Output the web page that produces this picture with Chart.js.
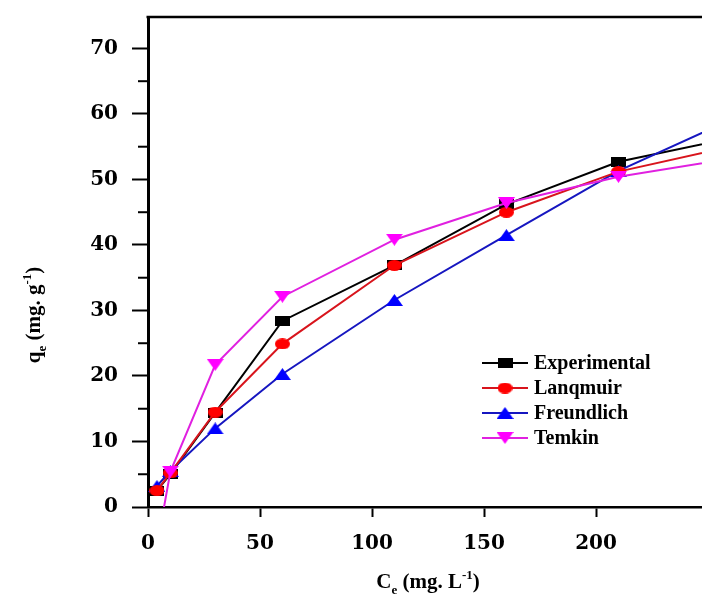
<!DOCTYPE html>
<html>
<head>
<meta charset="utf-8">
<title>Adsorption isotherms</title>
<script src="https://cdn.jsdelivr.net/npm/chart.js@4.4.1/dist/chart.umd.min.js"></script>
<style>
  html, body { margin: 0; padding: 0; background: #fff; }
  #wrap { position: relative; width: 702px; height: 597px; }
</style>
</head>
<body>
<div id="wrap"><canvas id="isoChart"></canvas></div>
<script>
// isotherm fits vs experimental uptake
const ceValues     = [4, 10, 30, 60, 110, 160, 210, 260];
const experimental = [2.5, 5.0, 14.4, 28.4, 36.9, 46.2, 52.7, 56.3];
const langmuir     = [2.5, 5.2, 14.5, 24.9, 36.9, 45.0, 51.2, 55.0];
const freundlich   = [3.2, 5.5, 12.0, 20.3, 31.6, 41.5, 51.3, 59.1];
const temkin       = [-6, 5.4, 21.7, 32.1, 40.8, 46.4, 50.4, 53.2];

const seriesNames = ['Experimental', 'Lanqmuir', 'Freundlich', 'Temkin'];
const xTickValues = [0, 50, 100, 150, 200];
const yTickValues = [0, 10, 20, 30, 40, 50, 60, 70];
const yMinorTicks = [5, 15, 25, 35, 45, 55, 65];

const tickFont = { family: '"DejaVu Serif", serif', weight: 'bold', size: 20 };
const textFont = '"Liberation Serif", "Times New Roman", serif';

// the original figure is stretched sideways, so markers are a bit wider than tall
function markerImage(shape, w, h, color) {
  const c = document.createElement('canvas');
  c.width = w;
  c.height = h;
  const g = c.getContext('2d');
  g.fillStyle = color;
  g.beginPath();
  if (shape === 'rect') {
    g.rect(0, 0, w, h);
  } else if (shape === 'circle') {
    g.ellipse(w / 2, h / 2, w / 2, h / 2, 0, 0, Math.PI * 2);
  } else if (shape === 'up') {
    g.moveTo(w / 2, 0); g.lineTo(w, h); g.lineTo(0, h);
  } else {
    g.moveTo(0, 0); g.lineTo(w, 0); g.lineTo(w / 2, h);
  }
  g.closePath();
  g.fill();
  return c;
}

function makeSet(name, values, line, marker, order) {
  return {
    label: name,
    data: ceValues.map((x, i) => ({ x, y: values[i] })),
    borderColor: line,
    backgroundColor: line,
    pointStyle: marker,
    pointRadius: 6,
    borderWidth: 2,
    tension: 0,
    order
  };
}

const datasets = [
  makeSet(seriesNames[0], experimental, '#000000', markerImage('rect',   15, 10, '#000000'), 4),
  makeSet(seriesNames[1], langmuir,     '#d8141c', markerImage('circle', 15, 11, '#ff0000'), 2),
  makeSet(seriesNames[2], freundlich,   '#1616c0', markerImage('up',     17, 12, '#0000ff'), 3),
  makeSet(seriesNames[3], temkin,       '#e020e0', markerImage('down',   17, 12, '#ff00ff'), 1)
];

// draws text with sub/superscript parts, centred on x
function drawRich(ctx, parts, x, y, size) {
  const small = Math.round(size * 0.6);
  let total = 0;
  parts.forEach(p => {
    ctx.font = `bold ${p[1] ? small : size}px ${textFont}`;
    p.w = ctx.measureText(p[0]).width;
    total += p.w;
  });
  let cx = x - total / 2;
  ctx.textAlign = 'left';
  ctx.textBaseline = 'alphabetic';
  parts.forEach(p => {
    ctx.font = `bold ${p[1] ? small : size}px ${textFont}`;
    let dy = 0;
    if (p[1] === 'sub') dy = size * 0.3;
    if (p[1] === 'sup') dy = -size * 0.42;
    ctx.fillText(p[0], cx, y + dy);
    cx += p.w;
  });
}

const decorPlugin = {
  id: 'decor',
  afterDraw(chart) {
    const ctx = chart.ctx;
    const area = chart.chartArea;
    const yScale = chart.scales.y;
    ctx.save();
    ctx.strokeStyle = '#000';
    ctx.fillStyle = '#000';

    // top frame line
    ctx.lineWidth = 2.5;
    ctx.beginPath();
    ctx.moveTo(area.left - 1.5, area.top);
    ctx.lineTo(area.right, area.top);
    ctx.stroke();

    // short minor ticks on the y axis
    ctx.lineWidth = 2;
    yMinorTicks.forEach(v => {
      const py = yScale.getPixelForValue(v);
      ctx.beginPath();
      ctx.moveTo(area.left - 10, py);
      ctx.lineTo(area.left, py);
      ctx.stroke();
    });

    // axis titles
    drawRich(ctx, [['C'], ['e', 'sub'], [' (mg. L'], ['-1', 'sup'], [')']], 428, 588, 21);
    ctx.translate(40, 315);
    ctx.rotate(-Math.PI / 2);
    drawRich(ctx, [['q'], ['e', 'sub'], [' (mg. g'], ['-1', 'sup'], [')']], 0, 0, 21);
    ctx.restore();

    // legend: line sample + marker + name
    ctx.save();
    chart.data.datasets.forEach((ds, i) => {
      const rowY = 363 + i * 25;
      ctx.strokeStyle = ds.borderColor;
      ctx.lineWidth = 2;
      ctx.beginPath();
      ctx.moveTo(482, rowY);
      ctx.lineTo(528, rowY);
      ctx.stroke();
      Chart.helpers.drawPoint(ctx, { pointStyle: ds.pointStyle, radius: 6, rotation: 0, borderWidth: 0 }, 505, rowY);
      ctx.fillStyle = '#000';
      ctx.font = `bold 20px ${textFont}`;
      ctx.textAlign = 'left';
      ctx.textBaseline = 'middle';
      ctx.fillText(ds.label, 534, rowY + 1);
    });
    ctx.restore();
  }
};

new Chart(document.getElementById('isoChart'), {
  type: 'line',
  data: { datasets },
  options: {
    responsive: true,
    maintainAspectRatio: false,
    animation: false,
    layout: { autoPadding: false, padding: { top: 17, right: 0, left: 0, bottom: 0 } },
    plugins: { legend: { display: false }, tooltip: { enabled: false } },
    scales: {
      x: {
        type: 'linear',
        min: 0,
        max: 247.3,
        afterBuildTicks: s => { s.ticks = xTickValues.map(v => ({ value: v })); },
        afterFit: s => { s.height = 90; s.paddingLeft = 0; s.paddingRight = 0; },
        ticks: { font: tickFont, color: '#000', padding: 15, maxRotation: 0 },
        grid: { drawOnChartArea: false, tickLength: 10, tickWidth: 2, tickColor: '#000' },
        border: { display: true, color: '#000', width: 2.5 }
      },
      y: {
        type: 'linear',
        min: 0,
        max: 74.8,
        afterBuildTicks: s => { s.ticks = yTickValues.map(v => ({ value: v })); },
        afterFit: s => { s.width = 148; s.paddingTop = 0; s.paddingBottom = 0; },
        ticks: { font: tickFont, color: '#000', padding: 14 },
        grid: { drawOnChartArea: false, tickLength: 16, tickWidth: 2, tickColor: '#000' },
        border: { display: true, color: '#000', width: 3 }
      }
    }
  },
  plugins: [decorPlugin]
});
</script>
</body>
</html>
